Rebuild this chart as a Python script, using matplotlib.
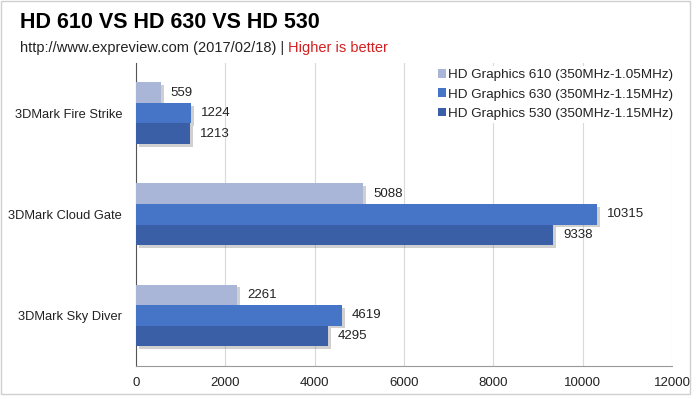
import numpy as np
import matplotlib.pyplot as plt
import matplotlib.patheffects as pe
from matplotlib.patches import Rectangle

plt.rcParams['font.family'] = ['Liberation Sans', 'DejaVu Sans']

tests = ['3DMark Fire Strike', '3DMark Cloud Gate', '3DMark Sky Diver']
series = ['HD Graphics 610 (350MHz-1.05MHz)',
          'HD Graphics 630 (350MHz-1.15MHz)',
          'HD Graphics 530 (350MHz-1.15MHz)']
hd610 = [559, 5088, 2261]
hd630 = [1224, 10315, 4619]
hd530 = [1213, 9338, 4295]
colors = ['#a9b6d8', '#4674c6', '#3b5fa6']
xticks = [0, 2000, 4000, 6000, 8000, 10000, 12000]

fig = plt.figure(figsize=(6.98, 3.99), dpi=100)
ax = fig.add_axes([0.195, 0.083, 0.768, 0.760])

y = np.arange(len(tests))
h = 0.203
all_bars = []
for i, (vals, name) in enumerate(zip([hd610, hd630, hd530], series)):
    bars = ax.barh(y + (i - 1) * h, vals, height=h, color=colors[i], label=name,
                   zorder=3)
    all_bars.append(bars)
    ax.bar_label(bars, padding=7, fontsize=9.5, color='#222222')

ax.set_ylim(2.5, -0.5)
ax.set_xlim(0, 12000)
ax.set_xticks(xticks)
ax.set_xticklabels([str(t) for t in xticks], fontsize=9.5, color='#222222')
ax.set_yticks(y)
ax.set_yticklabels(tests, fontsize=9.3, color='#222222')
ax.tick_params(axis='both', length=0, pad=8)
ax.tick_params(axis='y', pad=10)
ax.xaxis.grid(True, color='#d9d9d9', linewidth=0.8, zorder=0)
ax.set_axisbelow(True)
for s in ['top', 'right']:
    ax.spines[s].set_visible(False)
ax.spines['left'].set_color('#555555')
ax.spines['bottom'].set_color('#999999')

leg = ax.legend(loc='upper right', bbox_to_anchor=(1.02, 1.01), fontsize=9.7,
                handlelength=0.6, handleheight=0.6, handletextpad=0.15,
                labelspacing=0.55, borderpad=0.2, frameon=True, fancybox=False)
leg.get_frame().set_edgecolor('none')
leg.get_frame().set_facecolor('white')
leg.get_frame().set_alpha(1)
for t in leg.get_texts():
    t.set_color('#222222')

# soft drop shadow on the bars only (after the legend so handles stay flat)
shadow = [pe.SimplePatchShadow(offset=(2, -2), shadow_rgbFace='#666666', alpha=0.3),
          pe.Normal()]
for bars in all_bars:
    for b in bars:
        b.set_path_effects(shadow)

fig.text(0.028, 0.943, 'HD 610 VS HD 630 VS HD 530', fontsize=15.5,
         fontweight='bold', va='center', ha='left', color='black')
t1 = fig.text(0.028, 0.880, 'http://www.expreview.com (2017/02/18) | ',
              fontsize=10.5, va='center', ha='left', color='#222222')
fig.canvas.draw()
bb = t1.get_window_extent().transformed(fig.transFigure.inverted())
fig.text(bb.x1, 0.880, 'Higher is better', fontsize=10.5, va='center',
         ha='left', color='#d42020')

fig.patches.append(Rectangle((0.002, 0.012), 0.987, 0.985, transform=fig.transFigure,
                             fill=False, edgecolor='#d0d0d0', linewidth=1))

fig.savefig('out.png', dpi=100)
